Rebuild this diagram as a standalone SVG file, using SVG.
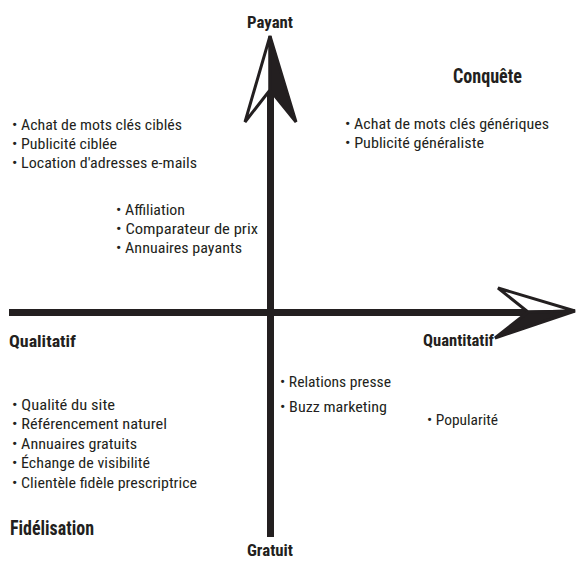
<svg xmlns="http://www.w3.org/2000/svg" width="577" height="563" viewBox="0 0 577 563">
<style>
.t{font-family:"Roboto Condensed","Liberation Sans Narrow","Liberation Sans",sans-serif;font-size:15.5px;fill:#231f20}
.b{font-family:"Roboto Condensed","Liberation Sans Narrow","Liberation Sans",sans-serif;font-size:16px;font-weight:bold;fill:#231f20}
.h{font-family:"Roboto Condensed","Liberation Sans Narrow","Liberation Sans",sans-serif;font-size:20px;font-weight:bold;fill:#231f20}
</style>
<rect width="577" height="563" fill="#fff"/>
<g id="connectors">
<rect x="9" y="309" width="520" height="7" fill="#231f20"/>
<rect x="267" y="88" width="7" height="449" fill="#231f20"/>
<polygon points="270,36 245,122 270,90" fill="#fff" stroke="#231f20" stroke-width="3" stroke-linejoin="miter"/>
<polygon points="270,36 296,122 270,90" fill="#231f20" stroke="#231f20" stroke-width="3"/>
<polygon points="575,311 498,288 528,312" fill="#fff" stroke="#231f20" stroke-width="3"/>
<polygon points="575,311 495,338 528,312" fill="#231f20" stroke="#231f20" stroke-width="3"/>
</g>
<g id="axis-payant"><text class="b" x="247" y="28" textLength="46" lengthAdjust="spacingAndGlyphs">Payant</text></g>
<g id="axis-gratuit"><text class="b" x="247" y="556" textLength="46" lengthAdjust="spacingAndGlyphs">Gratuit</text></g>
<g id="axis-qualitatif"><text class="b" x="9" y="347" textLength="67" lengthAdjust="spacingAndGlyphs">Qualitatif</text></g>
<g id="axis-quantitatif"><text class="b" x="423" y="346" textLength="71" lengthAdjust="spacingAndGlyphs">Quantitatif</text></g>
<g id="conquete"><text class="h" x="453" y="83" textLength="69" lengthAdjust="spacingAndGlyphs">Conquête</text></g>
<g id="fidelisation"><text class="h" x="10" y="535" textLength="84" lengthAdjust="spacingAndGlyphs">Fidélisation</text></g>
<g id="top-left">
<text class="t" x="12" y="130" textLength="170" lengthAdjust="spacingAndGlyphs">• Achat de mots clés ciblés</text>
<text class="t" x="12" y="149" textLength="105" lengthAdjust="spacingAndGlyphs">• Publicité ciblée</text>
<text class="t" x="12" y="168" textLength="185" lengthAdjust="spacingAndGlyphs">• Location d'adresses e-mails</text>
</g>
<g id="top-middle">
<text class="t" x="116" y="215" textLength="69" lengthAdjust="spacingAndGlyphs">• Affiliation</text>
<text class="t" x="116" y="234" textLength="142" lengthAdjust="spacingAndGlyphs">• Comparateur de prix</text>
<text class="t" x="116" y="253" textLength="126" lengthAdjust="spacingAndGlyphs">• Annuaires payants</text>
</g>
<g id="top-right">
<text class="t" x="345" y="129" textLength="204" lengthAdjust="spacingAndGlyphs">• Achat de mots clés génériques</text>
<text class="t" x="345" y="148" textLength="139" lengthAdjust="spacingAndGlyphs">• Publicité généraliste</text>
</g>
<g id="bottom-left">
<text class="t" x="12" y="410" textLength="103" lengthAdjust="spacingAndGlyphs">• Qualité du site</text>
<text class="t" x="12" y="429" textLength="155" lengthAdjust="spacingAndGlyphs">• Référencement naturel</text>
<text class="t" x="12" y="449" textLength="125" lengthAdjust="spacingAndGlyphs">• Annuaires gratuits</text>
<text class="t" x="12" y="468" textLength="138" lengthAdjust="spacingAndGlyphs">• Échange de visibilité</text>
<text class="t" x="12" y="488" textLength="185" lengthAdjust="spacingAndGlyphs">• Clientèle fidèle prescriptrice</text>
</g>
<g id="bottom-middle">
<text class="t" x="280" y="387" textLength="111" lengthAdjust="spacingAndGlyphs">• Relations presse</text>
<text class="t" x="280" y="412" textLength="107" lengthAdjust="spacingAndGlyphs">• Buzz marketing</text>
</g>
<g id="bottom-right">
<text class="t" x="427" y="425" textLength="71" lengthAdjust="spacingAndGlyphs">• Popularité</text>
</g>
</svg>
